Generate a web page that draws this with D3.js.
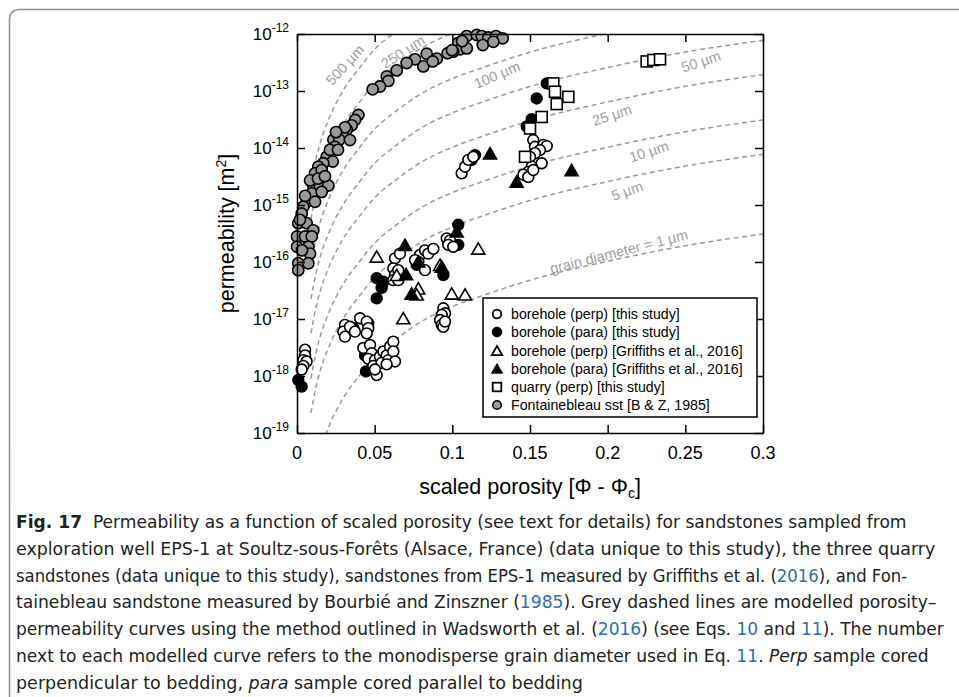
<!DOCTYPE html>
<html><head><meta charset="utf-8">
<script src="https://cdn.jsdelivr.net/npm/d3@7"></script>
<style>body{margin:0;background:#fff;} svg{display:block;}</style>
</head><body>
<svg id="chart" width="959" height="697"></svg>
<script>
// ---------------- DATA ----------------
const xTicks = [0, 0.05, 0.1, 0.15, 0.2, 0.25, 0.3];
const xTickLabels = ["0", "0.05", "0.1", "0.15", "0.2", "0.25", "0.3"];
const yTicks = [1e-19, 1e-18, 1e-17, 1e-16, 1e-15, 1e-14, 1e-13, 1e-12];
const yTickExponents = ["-19", "-18", "-17", "-16", "-15", "-14", "-13", "-12"];

// model curves: permeability for 1 µm grain diameter vs scaled porosity, scaled by d²
const modelX = [0.009, 0.012, 0.015, 0.02, 0.03, 0.04, 0.05, 0.065, 0.08, 0.1, 0.12, 0.15, 0.2, 0.25, 0.3];
const modelK1 = [9e-21, 2.4e-20, 5.0e-20, 1.2e-19, 4.2e-19, 1.0e-18, 2.15e-18, 4.7e-18, 9.0e-18, 1.65e-17, 2.6e-17, 4.8e-17, 1.03e-16, 1.93e-16, 3.1e-16];
const grainDiameters = [1, 5, 10, 25, 50, 100, 250, 500];
const curveLabels = ["grain diameter = 1 µm", "5 µm", "10 µm", "25 µm", "50 µm", "100 µm", "250 µm", "500 µm"];
const curveLabelX = [0.2073, 0.2125, 0.2266, 0.2028, 0.2601, 0.1288, 0.0682, 0.0309];
const curveLabelK = [1.52e-16, 1.76e-15, 8.7e-15, 3.79e-14, 3.3e-13, 1.91e-13, 4.83e-13, 2.86e-13];
const curveLabelAngle = [-14.2, -19.3, -17.7, -17.8, -17.7, -23, -32.7, -47.5];

// Fontainebleau sandstone [B & Z, 1985]
const fontainebleau = [
 [0.1093,9.2e-13],[0.1157,9.6e-13],[0.1189,9.2e-13],[0.1232,8.7e-13],[0.1281,9.2e-13],[0.1324,8.4e-13],
 [0.1196,6.4e-13],[0.1264,7.3e-13],[0.1039,7.0e-13],[0.105,5.4e-13],[0.1093,5.6e-13],[0.1006,4.9e-13],
 [0.097,4.6e-13],[0.09,3.7e-13],[0.0835,4.5e-13],[0.0813,2.7e-13],[0.0874,3.3e-13],[0.076,3.6e-13],
 [0.0706,3.1e-13],[0.0642,2.3e-13],[0.0578,1.8e-13],[0.0588,1.5e-13],[0.0534,1.2e-13],[0.0487,1.07e-13],
 [0.1063,7.5e-13],[0.0998,5.2e-13],
 [0.0395,3.8e-14],[0.0374,3.1e-14],[0.0352,2.5e-14],[0.032,2.1e-14],[0.0294,1.7e-14],[0.0234,1.4e-14],
 [0.0272,1.4e-14],[0.0245,1.05e-14],[0.0213,7.0e-15],[0.0191,7.0e-15],[0.023,5.8e-15],[0.0169,5.4e-15],
 [0.0137,4.7e-15],[0.0116,3.6e-15],[0.0159,4.1e-15],[0.0105,2.2e-15],[0.0148,2.1e-15],[0.0202,2.2e-15],
 [0.0095,1.6e-15],[0.0159,1.7e-15],[0.0062,1.14e-15],[0.0116,1.14e-15],[0.0041,9.3e-16],[0.003,7.1e-16],
 [0.0008,4.8e-16],[0.0062,4.8e-16],[0.0105,3.6e-16],[0.0,2.8e-16],[0.0052,2.8e-16],[0.0095,2.8e-16],
 [0.0,1.85e-16],[0.0073,1.85e-16],[0.0084,1.4e-16],[0.0008,9.5e-17],[0.0073,9.5e-17],[0.0008,7.2e-17],
 [0.0052,1.45e-15],[0.0084,2.7e-15],[0.0135,2.9e-15],[0.018,3.2e-15],[0.0212,9.3e-15],[0.0264,9.3e-15],
 [0.0309,2.3e-14],[0.0251,1.9e-14],[0.0341,1.38e-14],[0.0019,5.5e-16],[0.0032,1.6e-16]
];

// borehole (para) [this study]
const boreholePara = [
 [0.0008,8.5e-19],[0.003,6.5e-19],
 [0.0362,6.9e-18],[0.0459,8.4e-18],
 [0.0438,2.3e-18],[0.0444,1.2e-18],
 [0.0513,5.2e-17],[0.0556,4.5e-17],[0.0545,3.5e-17],[0.0513,2.3e-17],
 [0.0771,8.9e-17],
 [0.1038,4.5e-16],[0.1038,2.0e-16],[0.0942,5.9e-17],
 [0.1146,7.5e-15],[0.1125,6.2e-15],
 [0.1608,1.36e-13],[0.1543,7.4e-14],[0.1511,3.2e-14],[0.1479,2.4e-14]
];

// borehole (perp) [this study]
const boreholePerp = [
 [0.0052,2.9e-18],[0.0052,2.3e-18],[0.0041,1.9e-18],[0.0062,1.8e-18],[0.0041,1.5e-18],[0.003,1.3e-18],
 [0.0309,7.9e-18],[0.0298,6.0e-18],[0.0309,4.9e-18],[0.0406,1.03e-17],[0.0449,9.0e-18],[0.0459,6.9e-18],
 [0.0449,5.6e-18],[0.0341,7.3e-18],[0.0373,6.0e-18],
 [0.0427,3.1e-18],[0.047,3.5e-18],[0.0481,2.5e-18],[0.0459,2.0e-18],[0.0502,1.9e-18],[0.0491,1.5e-18],
 [0.0513,1.04e-18],[0.0534,2.2e-18],[0.0556,2.7e-18],[0.0577,2.3e-18],[0.0545,1.7e-18],[0.0588,1.9e-18],
 [0.0599,3.3e-18],[0.062,4.0e-18],[0.062,2.7e-18],[0.0631,1.8e-18],[0.0577,1.6e-18],[0.0502,1.3e-18],
 [0.0631,1.16e-16],[0.062,7.7e-17],[0.0631,5.9e-17],[0.062,4.8e-17],[0.0652,4.8e-17],[0.0652,7.2e-17],[0.0663,1.4e-16],
 [0.0792,1.33e-16],[0.0824,1.6e-16],[0.0845,1.4e-16],[0.0878,1.7e-16],[0.0781,1.0e-16],[0.0824,7.2e-17],[0.076,1.08e-16],
 [0.0964,2.6e-16],[0.0985,2.4e-16],[0.0974,2.0e-16],[0.1006,1.85e-16],
 [0.0942,1.54e-17],[0.0953,1.26e-17],[0.0932,1.18e-17],[0.0921,9.6e-18],[0.0932,7.9e-18],[0.0942,7.3e-18],[0.0953,9.0e-18],
 [0.106,3.6e-15],[0.1082,4.7e-15],[0.1103,6.2e-15],[0.1135,7.0e-15],
 [0.1521,1.38e-14],[0.1532,1.05e-14],[0.1586,1.13e-14],[0.1608,1.08e-14],[0.1564,9.2e-15],[0.1532,8.1e-15],
 [0.15,7.0e-15],[0.1575,5.4e-15],[0.1511,4.7e-15],[0.1489,3.8e-15],[0.1457,3.4e-15],[0.1489,3.1e-15],[0.1521,4.1e-15]
];

// borehole (perp) [Griffiths et al., 2016]
const griffithsPerp = [
 [0.0513,1.16e-16],[0.0642,5.5e-17],[0.0781,3.2e-17],[0.0771,2.5e-17],[0.0996,2.6e-17],[0.1082,2.5e-17],
 [0.1167,1.6e-16],[0.0684,9.6e-18],[0.0921,8.3e-17]
];

// borehole (para) [Griffiths et al., 2016]
const griffithsPara = [
 [0.0695,1.85e-16],[0.0702,5.7e-17],[0.0738,2.6e-17],[0.0781,9.5e-17],[0.0932,7.7e-17],[0.1028,3.2e-16],
 [0.1243,7.5e-15],[0.1768,3.8e-15],[0.1414,2.4e-15]
];

// quarry (perp) [this study]
const quarryPerp = [
 [0.2251,3.3e-13],[0.2294,3.5e-13],[0.2337,3.6e-13],[0.165,1.36e-13],[0.1661,9.7e-14],[0.1747,7.9e-14],
 [0.1672,5.9e-14],[0.1575,3.5e-14],[0.15,2.2e-14],[0.1468,7.0e-15]
];

const legendLabels = [
 "borehole (perp) [this study]",
 "borehole (para) [this study]",
 "borehole (perp) [Griffiths et al., 2016]",
 "borehole (para) [Griffiths et al., 2016]",
 "quarry (perp) [this study]",
 "Fontainebleau sst [B & Z, 1985]"
];

// ---------------- DRAWING ----------------
const svg = d3.select("#chart");
const FONT = "'Liberation Sans', Arial, Helvetica, sans-serif";
const L = 297, R = 763, T = 34, B = 433;

const x = d3.scaleLinear().domain([0, 0.3]).range([L, R]);
const y = d3.scaleLog().domain([1e-19, 1e-12]).range([B, T]);

// outer rounded frame
svg.append("rect").attr("x", 9.5).attr("y", 9.5).attr("width", 1000).attr("height", 1000)
  .attr("rx", 9).attr("fill", "none").attr("stroke", "#8f8f8f").attr("stroke-width", 1.5);

const defs = svg.append("defs");
defs.append("clipPath").attr("id", "plotclip").append("rect")
  .attr("x", L).attr("y", T).attr("width", R - L).attr("height", B - T);

// model curves
const curveG = svg.append("g").attr("clip-path", "url(#plotclip)");
const line = d3.line().x(d => x(d[0])).y(d => y(d[1])).curve(d3.curveMonotoneX);
grainDiameters.forEach(dm => {
  const pts = modelX.map((px, i) => [px, modelK1[i] * dm * dm]);
  curveG.append("path").attr("d", line(pts)).attr("fill", "none")
    .attr("stroke", "#9a9a9a").attr("stroke-width", 1.5).attr("stroke-dasharray", "5,3.5");
});
curveLabels.forEach((t, i) => {
  svg.append("text")
    .attr("transform", `translate(${x(curveLabelX[i])},${y(curveLabelK[i])}) rotate(${curveLabelAngle[i]})`)
    .attr("text-anchor", "middle").attr("dominant-baseline", "central")
    .attr("font-family", FONT).attr("font-size", 14.5).attr("fill", "#a0a0a0").text(t);
});

// markers
const tri = s => { const h = s * Math.sqrt(3) / 2; return `M0,${-h*2/3}L${s/2},${h/3}L${-s/2},${h/3}Z`; };
const ptsG = svg.append("g");
function circles(data, fill, r) {
  ptsG.selectAll(null).data(data).enter().append("circle")
    .attr("cx", d => x(d[0])).attr("cy", d => y(d[1])).attr("r", r)
    .attr("fill", fill).attr("stroke", "#000").attr("stroke-width", 1.6);
}
function triangles(data, fill, s) {
  ptsG.selectAll(null).data(data).enter().append("path")
    .attr("d", tri(s)).attr("transform", d => `translate(${x(d[0])},${y(d[1])})`)
    .attr("fill", fill).attr("stroke", "#000").attr("stroke-width", 1.6).attr("stroke-linejoin", "miter");
}
function squares(data, s) {
  ptsG.selectAll(null).data(data).enter().append("rect")
    .attr("x", d => x(d[0]) - s/2).attr("y", d => y(d[1]) - s/2).attr("width", s).attr("height", s)
    .attr("fill", "#fff").attr("stroke", "#000").attr("stroke-width", 1.6);
}
circles(fontainebleau, "#999", 5.6);
circles(boreholePara, "#000", 5.4);
circles(boreholePerp, "#fff", 5.4);
triangles(griffithsPerp, "#fff", 13);
triangles(griffithsPara, "#000", 13);
squares(quarryPerp, 11);

// axes (ticks inward)
const axStyle = g => { g.selectAll("path,line").attr("stroke", "#000").attr("stroke-width", 1.5); g.selectAll("text").remove(); };
svg.append("g").attr("transform", `translate(0,${B})`)
  .call(d3.axisBottom(x).tickValues(xTicks).tickSize(-8).tickSizeOuter(0)).call(axStyle);
svg.append("g").attr("transform", `translate(0,${T})`)
  .call(d3.axisTop(x).tickValues(xTicks).tickSize(-8).tickSizeOuter(0)).call(axStyle);
svg.append("g").attr("transform", `translate(${L},0)`)
  .call(d3.axisLeft(y).tickValues(yTicks).tickSize(-8).tickSizeOuter(0)).call(axStyle);
svg.append("g").attr("transform", `translate(${R},0)`)
  .call(d3.axisRight(y).tickValues(yTicks).tickSize(-8).tickSizeOuter(0)).call(axStyle);

// tick labels
xTicks.forEach((v, i) => {
  svg.append("text").attr("x", x(v)).attr("y", 459).attr("text-anchor", "middle")
    .attr("font-family", FONT).attr("font-size", 18).attr("fill", "#000").text(xTickLabels[i]);
});
yTicks.forEach((v, i) => {
  const t = svg.append("text").attr("x", 289).attr("y", y(v) + 6).attr("text-anchor", "end")
    .attr("font-family", FONT).attr("font-size", 17).attr("fill", "#000");
  t.append("tspan").text("10");
  t.append("tspan").attr("font-size", 12).attr("dy", -8).text(yTickExponents[i]);
});

// axis titles
const yt = svg.append("text").attr("transform", `translate(234,${(T + B) / 2}) rotate(-90)`)
  .attr("text-anchor", "middle").attr("font-family", FONT).attr("font-size", 21.5).attr("fill", "#000");
yt.append("tspan").text("permeability [m");
yt.append("tspan").attr("font-size", 14).attr("dy", -8).text("2");
yt.append("tspan").attr("dy", 8).text("]");

const xt = svg.append("text").attr("x", 530).attr("y", 494).attr("text-anchor", "middle")
  .attr("font-family", FONT).attr("font-size", 21.5).attr("fill", "#000");
xt.append("tspan").text("scaled porosity [Φ - Φ");
xt.append("tspan").attr("font-size", 14).attr("dy", 4).text("c");
xt.append("tspan").attr("dy", -4).text("]");

// legend
const lg = svg.append("g");
lg.append("rect").attr("x", 483).attr("y", 298).attr("width", 274).attr("height", 119)
  .attr("fill", "#fff").attr("stroke", "#000").attr("stroke-width", 1.5);
const rowsY = [314, 332, 351, 369, 387, 405];
const lx = 497;
lg.append("circle").attr("cx", lx).attr("cy", rowsY[0]).attr("r", 4.3).attr("fill", "#fff").attr("stroke", "#000").attr("stroke-width", 1.8);
lg.append("circle").attr("cx", lx).attr("cy", rowsY[1]).attr("r", 4.8).attr("fill", "#000").attr("stroke", "#000").attr("stroke-width", 1);
lg.append("path").attr("d", tri(10.5)).attr("transform", `translate(${lx},${rowsY[2]+1})`).attr("fill", "#fff").attr("stroke", "#000").attr("stroke-width", 1.8);
lg.append("path").attr("d", tri(11)).attr("transform", `translate(${lx},${rowsY[3]+1})`).attr("fill", "#000").attr("stroke", "#000").attr("stroke-width", 1);
lg.append("rect").attr("x", lx - 4.3).attr("y", rowsY[4] - 4.3).attr("width", 8.6).attr("height", 8.6).attr("fill", "#fff").attr("stroke", "#000").attr("stroke-width", 1.8);
lg.append("circle").attr("cx", lx).attr("cy", rowsY[5]).attr("r", 4.3).attr("fill", "#999").attr("stroke", "#000").attr("stroke-width", 1.5);
legendLabels.forEach((t, i) => {
  lg.append("text").attr("x", 511).attr("y", rowsY[i] + 5).attr("font-family", FONT)
    .attr("font-size", 14.2).attr("fill", "#000").text(t);
});

// caption (each line squeezed horizontally to the reference's line width)
const CAP = "'Liberation Sans Narrow', 'DejaVu Sans Condensed', 'Liberation Sans', sans-serif";
const blue = "#2c6cb8";
const capLines = [
  { w: 891, parts: [["Fig. 17", "b"], ["  Permeability as a function of scaled porosity (see text for details) for sandstones sampled from"]] },
  { w: 920, parts: [["exploration well EPS-1 at Soultz-sous-Forêts (Alsace, France) (data unique to this study), the three quarry"]] },
  { w: 892, parts: [["sandstones (data unique to this study), sandstones from EPS-1 measured by Griffiths et al. ("], ["2016", "l"], ["), and Fon-"]] },
  { w: 921, parts: [["tainebleau sandstone measured by Bourbié and Zinszner ("], ["1985", "l"], ["). Grey dashed lines are modelled porosity–"]] },
  { w: 928, parts: [["permeability curves using the method outlined in Wadsworth et al. ("], ["2016", "l"], [") (see Eqs. "], ["10", "l"], [" and "], ["11", "l"], ["). The number"]] },
  { w: 913, parts: [["next to each modelled curve refers to the monodisperse grain diameter used in Eq. "], ["11", "l"], [". "], ["Perp", "i"], [" sample cored"]] },
  { w: 567, parts: [["perpendicular to bedding, "], ["para", "i"], [" sample cored parallel to bedding"]] }
];
capLines.forEach((ln, i) => {
  const g = svg.append("g");
  const t = g.append("text").attr("x", 0).attr("y", 0)
    .attr("font-family", CAP).attr("font-size", 18.5).attr("fill", "#222")
    .style("white-space", "pre");
  ln.parts.forEach(p => {
    const s = t.append("tspan").text(p[0]);
    if (p[1] === "b") s.attr("font-weight", "bold");
    if (p[1] === "l") s.attr("fill", blue);
    if (p[1] === "i") s.attr("font-style", "italic");
  });
  const natural = t.node().getComputedTextLength();
  g.attr("transform", `translate(16,${528 + i * 26.8}) scale(${ln.w / natural},1)`);
});
</script>
</body></html>
